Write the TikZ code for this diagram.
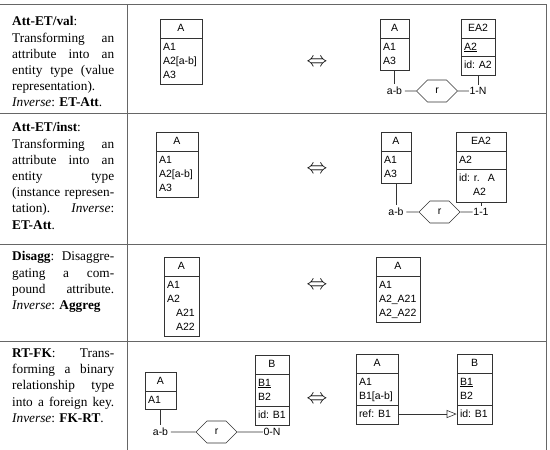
\documentclass[tikz,border=0pt]{standalone}
\usepackage{fontspec}
\setmainfont{Liberation Serif}
\setsansfont{Liberation Sans}
\usetikzlibrary{shapes.multipart,shapes.symbols,arrows.meta}
\setlength\parindent{0pt}
\hbadness=10000
\newcommand{\attlist}[1]{\begin{tabular}{@{}l@{}}#1\end{tabular}}

\begin{document}
\begin{tikzpicture}[x=1pt,y=-1pt,
  ent/.style={rectangle split,draw=black!80,line width=0.6pt,inner xsep=3,inner ysep=2,anchor=north,
    rectangle split part align={center,left,left},font=\sffamily\fontsize{10.5}{14}\selectfont},
  rel/.style={signal,signal to=east and west,draw=black!80,line width=0.6pt,minimum width=41,minimum height=22,
    inner sep=1,font=\sffamily\fontsize{10.5}{14}\selectfont},
  card/.style={inner sep=2.5,font=\sffamily\fontsize{10.5}{14}\selectfont},
  cardr/.style={card,inner xsep=0.5},
  desc/.style={text width=102,inner sep=0,anchor=north west,align=justify,font=\fontsize{13.3}{16.2}\selectfont},
  grid/.style={draw=black!60,line width=1pt},
  link/.style={draw=black!80,line width=0.6pt}]
\useasboundingbox (0,0) rectangle (550,450);
\draw[grid] (0,4) -- (546,4) -- (546,450);
\draw[grid] (127,4) -- (127,450);
\foreach \y in {113,244,341}
  {\draw[grid] (0,\y) -- (546,\y);}
\foreach \y/\n in {63/1,170/2,286/3,400/4}
  {\node[font=\fontsize{20}{20}\selectfont] (eq\n) at (317,\y) {$\Leftrightarrow$};}

\node[desc] (txtval) at (12,16.5) {\textbf{Att-ET/val}:\\ Transforming an\linebreak attribute into an\linebreak
  entity type (value\linebreak representation).\\ \textit{Inverse}: \textbf{ET-Att}.};
\node[desc] (txtinst) at (12,122.5) {\textbf{Att-ET/inst}:\\ Transforming an\linebreak attribute into an\linebreak
  entity type\linebreak (instance represen-\linebreak tation). \textit{Inverse}:\linebreak \textbf{ET-Att}.};
\node[desc] (txtdis) at (12,251.5) {\textbf{Disagg}: Disaggre-\linebreak gating a com-\linebreak
  pound attribute.\linebreak \textit{Inverse}: \textbf{Aggreg}};
\node[desc] (txtfk) at (12,348.5) {\textbf{RT-FK}: Trans-\linebreak forming a binary\linebreak
  relationship type\linebreak into a foreign key.\linebreak \textit{Inverse}: \textbf{FK-RT}.};

% Att-ET/val
\node[ent,rectangle split parts=2,minimum width=42] (vala) at (181,19)
  {\nodepart{one}\attlist{A}\nodepart{two}\attlist{A1\\A2[a-b]\\A3}};
\node[ent,rectangle split parts=2,minimum width=29] (valb) at (394.5,19)
  {\nodepart{one}\attlist{A}\nodepart{two}\attlist{A1\\A3}};
\node[ent,rectangle split parts=3,minimum width=34] (valea) at (478,19)
  {\nodepart{one}\attlist{EA2}\nodepart{two}\attlist{\underline{A2}}\nodepart{three}\attlist{id: A2}};
\node[card] (valab) at (394.5,91) {a-b};
\node[rel] (valr) at (437,91) {r};
\node[cardr] (valn) at (478,91) {1-N};
\draw[link] (valb) -- (valab);
\draw[link] (valea) -- (valn);
\draw[link] (valab) -- (valr) -- (valn);

% Att-ET/inst
\node[ent,rectangle split parts=2,minimum width=42] (insta) at (177,132)
  {\nodepart{one}\attlist{A}\nodepart{two}\attlist{A1\\A2[a-b]\\A3}};
\node[ent,rectangle split parts=2,minimum width=30] (instb) at (396,132)
  {\nodepart{one}\attlist{A}\nodepart{two}\attlist{A1\\A3}};
\node[ent,rectangle split parts=3,minimum width=50] (instea) at (481,132)
  {\nodepart{one}\attlist{EA2}\nodepart{two}\attlist{A2}\nodepart{three}\attlist{id: r.\hspace{8pt}A\\\hspace{14pt}A2}};
\node[card] (instab) at (396,212) {a-b};
\node[rel] (instr) at (439.5,212) {r};
\node[cardr] (instn) at (481,212) {1-1};
\draw[link] (instb) -- (instab);
\draw[link] (instea) -- (instn);
\draw[link] (instab) -- (instr) -- (instn);

% Disagg
\node[ent,rectangle split parts=2,minimum width=35] (disa) at (181.5,257)
  {\nodepart{one}\attlist{A}\nodepart{two}\attlist{A1\\A2\\\hspace{9pt}A21\\\hspace{9pt}A22}};
\node[ent,rectangle split parts=2,minimum width=44] (disb) at (398,257)
  {\nodepart{one}\attlist{A}\nodepart{two}\attlist{A1\\A2\_A21\\A2\_A22}};

% RT-FK
\node[ent,rectangle split parts=2,minimum width=31] (rta) at (160.5,372)
  {\nodepart{one}\attlist{A}\nodepart{two}\attlist{A1}};
\node[ent,rectangle split parts=3,minimum width=34] (rtb) at (272,355)
  {\nodepart{one}\attlist{B}\nodepart{two}\attlist{\underline{B1}\\B2}\nodepart{three}\attlist{id: B1}};
\node[card] (rtab) at (160.5,432) {a-b};
\node[rel] (rtr) at (216.5,432) {r};
\node[cardr] (rtn) at (272,432) {0-N};
\draw[link] (rta) -- (rtab);
\draw[link] (rtb) -- (rtn);
\draw[link] (rtab) -- (rtr) -- (rtn);

\node[ent,rectangle split parts=3,minimum width=42] (fka) at (377,354)
  {\nodepart{one}\attlist{A}\nodepart{two}\attlist{A1\\B1[a-b]}\nodepart{three}\attlist{ref: B1}};
\node[ent,rectangle split parts=3,minimum width=35] (fkb) at (474.5,354)
  {\nodepart{one}\attlist{B}\nodepart{two}\attlist{\underline{B1}\\B2}\nodepart{three}\attlist{id: B1}};
\draw[link,-{Triangle[open,length=10pt,width=8pt]}] ([yshift=3.5pt]fka.east |- fka.three) -- ([yshift=3.5pt]fkb.west |- fkb.three);
\end{tikzpicture}
\end{document}
